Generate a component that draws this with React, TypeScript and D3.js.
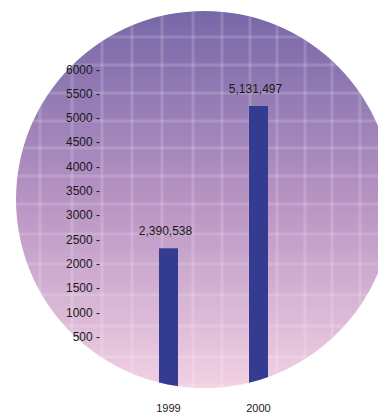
import React from "react";
import * as d3 from "d3";

const categories = ["1999", "2000"];
const values = [2390538, 5131497];
const valueLabels = ["2,390,538", "5,131,497"];
const yTicks = [500, 1000, 1500, 2000, 2500, 3000, 3500, 4000, 4500, 5000, 5500, 6000];
const gridX = [40, 72, 102, 132, 162, 193, 222, 250, 277, 305, 332, 360];
const gridY = [37, 65, 93, 121, 148, 176, 204, 234, 264, 295, 326, 357, 386];

const W = 378;
const H = 413;
const CX = 204.5;
const CY = 199.5;
const R = 188.5;

export default function App() {
  const axisY = d3.scaleLinear().domain([500, 6000]).range([336.7, 69.3]);
  const barY = d3.scaleLinear().domain([0, 6000000]).range([372.4, 372.4 - 6000000 * 5.1916e-5]);
  const x = d3.scalePoint<string>().domain(categories).range([168.5, 258.5]);
  const barW = 19;
  const bottom = 420;

  return (
    <svg
      width={W}
      height={H}
      style={{ position: "absolute", left: 0, top: 0 }}
      xmlns="http://www.w3.org/2000/svg"
    >
      <defs>
        <linearGradient id="bg" gradientUnits="userSpaceOnUse" x1="0" y1={CY - R} x2="0" y2={CY + R}>
          <stop offset="0" stopColor="#7767a8" />
          <stop offset="0.5" stopColor="#b793c3" />
          <stop offset="1" stopColor="#f2d1e3" />
        </linearGradient>
        <clipPath id="circ">
          <circle cx={CX} cy={CY} r={R} />
        </clipPath>
      </defs>
      <rect width={W} height={H} fill="#ffffff" />
      <g clipPath="url(#circ)">
        <rect x={0} y={0} width={W} height={H} fill="url(#bg)" />
        {gridX.map((gx, i) => (
          <line key={"gx" + i} x1={gx} x2={gx} y1={0} y2={H} stroke="#ffffff" strokeOpacity={0.16} strokeWidth={3} />
        ))}
        {gridY.map((gy, i) => (
          <line key={"gy" + i} x1={0} x2={W} y1={gy} y2={gy} stroke="#ffffff" strokeOpacity={0.16} strokeWidth={3} />
        ))}
        {categories.map((c, i) => (
          <rect
            key={"b" + c}
            x={(x(c) as number) - barW / 2}
            y={barY(values[i])}
            width={barW}
            height={bottom - barY(values[i])}
            fill="#333c91"
          />
        ))}
      </g>
      {yTicks.map((t) => (
        <text
          key={"t" + t}
          x={100}
          y={axisY(t)}
          dy="0.35em"
          textAnchor="end"
          fontFamily="'Liberation Sans Narrow', 'Arial Narrow', 'Liberation Sans', Arial, sans-serif"
          fontSize={12}
          fill="#1a1a1a"
        >
          {t + " -"}
        </text>
      ))}
      {categories.map((c, i) => (
        <text
          key={"v" + c}
          x={(x(c) as number) - 3}
          y={barY(values[i]) - 13}
          textAnchor="middle"
          fontFamily="'Liberation Sans', Arial, sans-serif"
          fontSize={12}
          fill="#1a1a1a"
        >
          {valueLabels[i]}
        </text>
      ))}
      {categories.map((c) => (
        <text
          key={"x" + c}
          x={x(c) as number}
          y={412}
          textAnchor="middle"
          fontFamily="'Liberation Sans Narrow', 'Arial Narrow', 'Liberation Sans', Arial, sans-serif"
          fontSize={11}
          fill="#1a1a1a"
        >
          {c}
        </text>
      ))}
    </svg>
  );
}
